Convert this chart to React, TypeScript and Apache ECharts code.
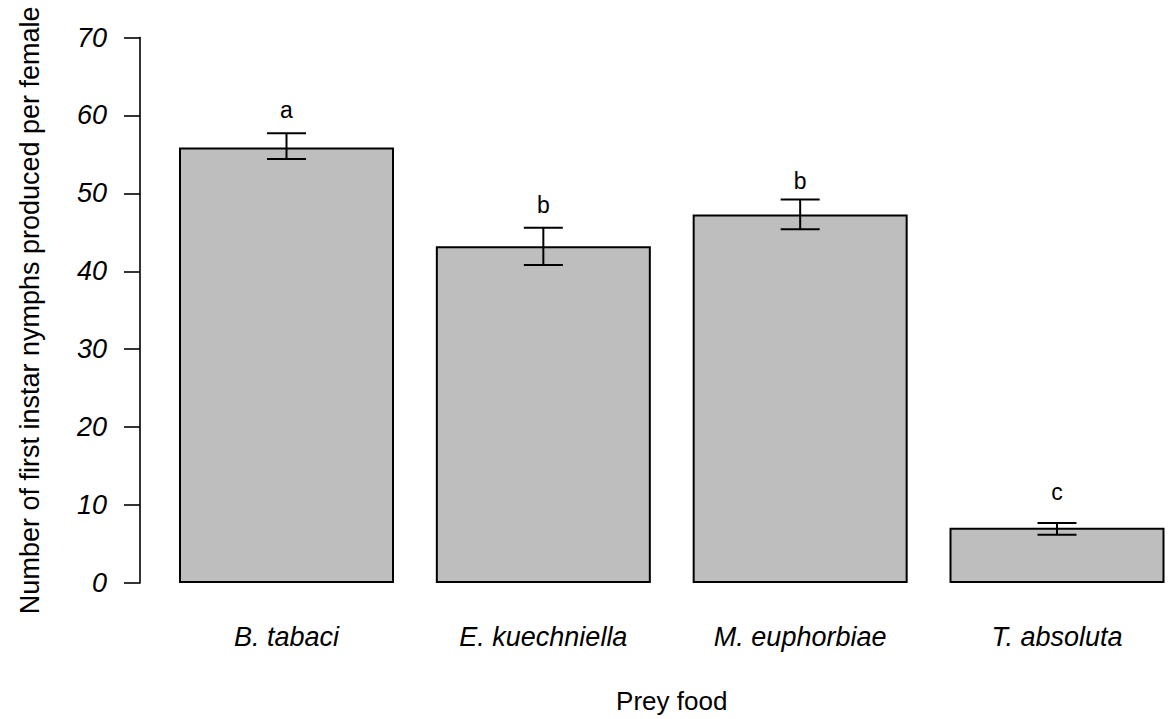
import React, { useEffect, useRef } from "react";
import * as echarts from "echarts";

const categories = ["B. tabaci", "E. kuechniella", "M. euphorbiae", "T. absoluta"];
const means = [55.9, 43.2, 47.3, 7.1];
const lowerErr = [54.4, 40.8, 45.4, 6.2];
const upperErr = [57.7, 45.6, 49.2, 7.7];
const letters = ["a", "b", "b", "c"];
const letterPos = [60.7, 48.5, 51.6, 11.7];
const yTicks = [0, 10, 20, 30, 40, 50, 60, 70];

const FONT = "'Liberation Sans', Arial, sans-serif";

export default function App() {
  const ref = useRef<HTMLDivElement>(null);
  useEffect(() => {
    if (!ref.current) return;
    const chart = echarts.init(ref.current, null, { renderer: "svg" });
    const errData = categories.map((_, i) => [i, lowerErr[i], upperErr[i]]);
    const letterData = categories.map((_, i) => [i, letterPos[i], letters[i]]);
    chart.setOption({
      animation: false,
      backgroundColor: "#ffffff",
      grid: { left: 286.5, top: 37.5, width: 770.5, height: 551.5 },
      xAxis: {
        type: "category",
        data: categories,
        boundaryGap: false,
        axisLine: { show: false },
        axisTick: { show: false },
        splitLine: { show: false },
        axisLabel: {
          margin: 40,
          fontFamily: FONT,
          fontSize: 27,
          fontStyle: "italic",
          color: "#000",
          lineHeight: 27,
        },
        name: "Prey food",
        nameLocation: "middle",
        nameGap: 105,
        nameTextStyle: { fontFamily: FONT, fontSize: 26, color: "#000", lineHeight: 26 },
      },
      yAxis: {
        type: "value",
        min: yTicks[0],
        max: yTicks[yTicks.length - 1],
        interval: 10,
        offset: 146.5,
        splitLine: { show: false },
        axisLine: { show: true, lineStyle: { color: "#000", width: 1.6 } },
        axisTick: { show: true, inside: false, length: 16, lineStyle: { color: "#000", width: 1.6 } },
        axisLabel: {
          margin: 33,
          fontFamily: FONT,
          fontSize: 27,
          fontStyle: "italic",
          color: "#000",
        },
        name: "Number of first instar nymphs produced per female",
        nameLocation: "middle",
        nameGap: 97,
        nameTextStyle: { fontFamily: FONT, fontSize: 27, color: "#000", lineHeight: 27 },
      },
      series: [
        {
          type: "bar",
          data: means,
          barWidth: 215,
          clip: false,
          itemStyle: { color: "#bebebe", borderColor: "#000", borderWidth: 2 },
        },
        {
          type: "custom",
          data: errData,
          encode: { x: 0, y: [1, 2] },
          z: 5,
          clip: false,
          renderItem: (params: any, api: any) => {
            const x = api.value(0);
            const lo = api.coord([x, api.value(1)]);
            const hi = api.coord([x, api.value(2)]);
            const hw = 19.5;
            const style = { stroke: "#000", lineWidth: 2 };
            return {
              type: "group",
              children: [
                { type: "line", shape: { x1: lo[0], y1: lo[1], x2: hi[0], y2: hi[1] }, style },
                { type: "line", shape: { x1: lo[0] - hw, y1: lo[1], x2: lo[0] + hw, y2: lo[1] }, style },
                { type: "line", shape: { x1: hi[0] - hw, y1: hi[1], x2: hi[0] + hw, y2: hi[1] }, style },
              ],
            };
          },
        },
        {
          type: "custom",
          data: letterData,
          encode: { x: 0, y: 1 },
          z: 6,
          clip: false,
          renderItem: (params: any, api: any) => {
            const p = api.coord([api.value(0), api.value(1)]);
            return {
              type: "text",
              x: p[0],
              y: p[1],
              style: {
                text: letters[params.dataIndex],
                fontFamily: FONT,
                fontSize: 23,
                fill: "#000",
                align: "center",
                verticalAlign: "middle",
              },
            };
          },
        },
      ],
    });
    return () => chart.dispose();
  }, []);
  return (
    <div
      ref={ref}
      style={{ position: "fixed", left: 0, top: 0, width: 1172, height: 719, background: "#fff" }}
    />
  );
}
